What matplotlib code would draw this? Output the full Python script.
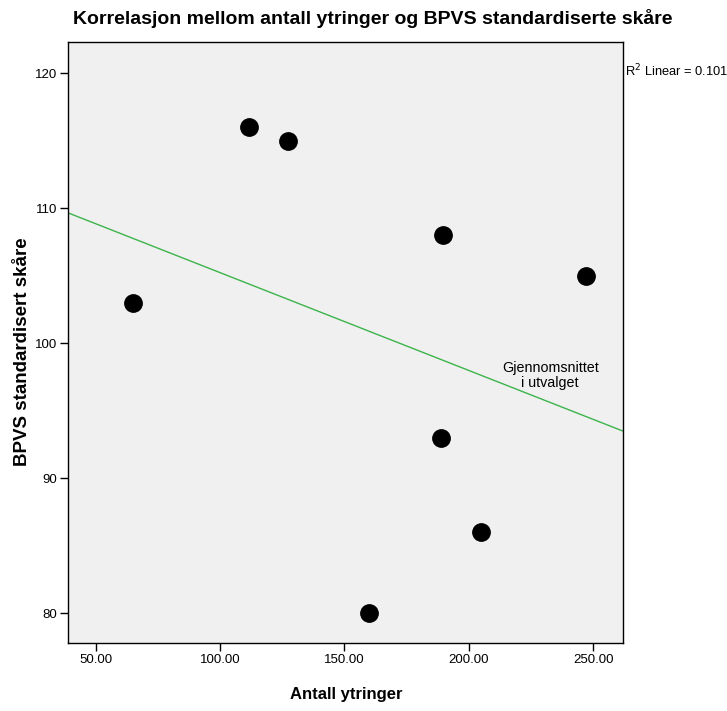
import matplotlib
matplotlib.use('Agg')
import matplotlib.pyplot as plt
import numpy as np

plt.rcParams['font.family'] = ['Liberation Sans', 'DejaVu Sans']

# antall ytringer og BPVS standardiserte skåre per barn
ytringer = [65.0, 111.6, 127.3, 189.6, 247.0, 188.8, 204.9, 159.9]
bpvs = [103, 116, 115, 108, 105, 93, 86, 80]
r2_tekst = 'R$^2$ Linear = 0.101'

x = np.array(ytringer)
y = np.array(bpvs)

fig = plt.figure(figsize=(7.27, 7.11), dpi=100)
ax = fig.add_axes([0.0935, 0.0956, 0.7635, 0.8454])
ax.set_facecolor('#f0f0f0')

ax.plot(x, y, 'o', color='black', ms=12.5, zorder=3)

# lineær tilpasning over hele x-aksen
xmin, xmax = 38.9, 262.0
a, b = np.polyfit(x, y, 1)
xl = np.array([xmin, xmax])
ax.plot(xl, a*xl+b, color='#3cb44b', lw=1.0, zorder=2)

ax.set_xlim(xmin, xmax)
ax.set_ylim(77.8, 122.3)
ax.set_xticks([50, 100, 150, 200, 250])
ax.set_xticklabels(['50.00', '100.00', '150.00', '200.00', '250.00'])
ax.set_yticks([80, 90, 100, 110, 120])
ax.tick_params(direction='out', length=6, width=1, labelsize=9.5, pad=2)
for s in ax.spines.values():
    s.set_linewidth(1.0)

ax.text(232.7, 97.6, 'Gjennomsnittet\ni utvalget', ha='center', va='center',
        fontsize=10.3, linespacing=1.12)
ax.text(1.003, 0.952, r2_tekst, transform=ax.transAxes, ha='left', va='center',
        fontsize=9.3)

ax.set_xlabel('Antall ytringer', fontsize=12, fontweight='bold')
ax.xaxis.set_label_coords(0.501, -0.073)
ax.set_ylabel('BPVS standardisert skåre', fontsize=13.5, fontweight='bold')
ax.yaxis.set_label_coords(-0.067, 0.484)
fig.text(0.513, 0.974, 'Korrelasjon mellom antall ytringer og BPVS standardiserte skåre',
         ha='center', va='center', fontsize=14, fontweight='bold')

fig.savefig('out.png', dpi=100)
